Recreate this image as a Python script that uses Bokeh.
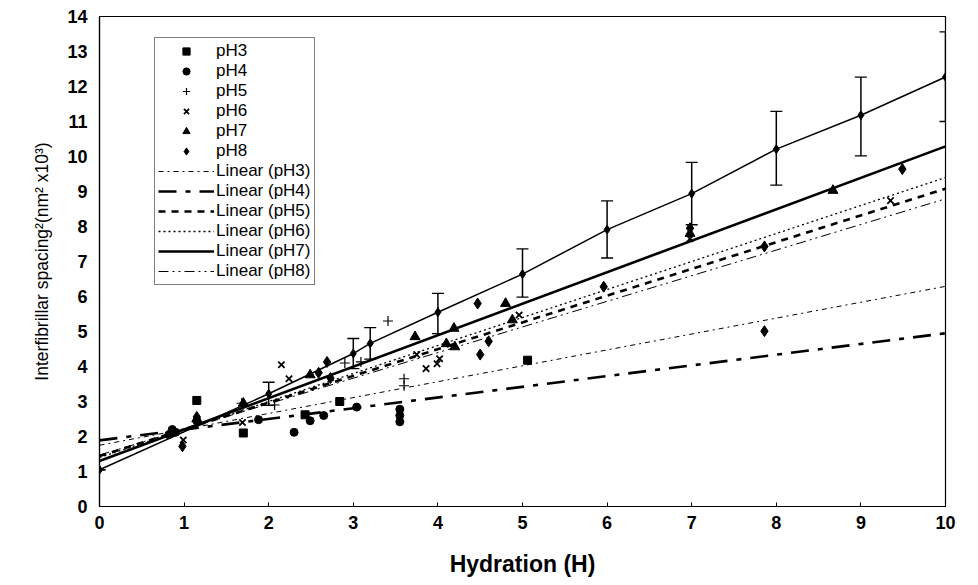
import math
from bokeh.plotting import figure
from bokeh.models import (Legend, LegendItem, Whisker, ColumnDataSource, Range1d,
                          FixedTicker, TeeHead, Title)
from bokeh.embed import file_html
from bokeh.resources import INLINE

# ---------------- data ----------------
ph3_x = [1.15, 1.70, 2.43, 2.84, 5.06]
ph3_y = [3.03, 2.10, 2.62, 3.00, 4.18]

ph4_x = [0.82, 0.86, 0.90, 1.15, 1.88, 2.30, 2.49, 2.65, 3.04, 3.55, 3.55, 3.55]
ph4_y = [2.05, 2.20, 2.12, 2.45, 2.48, 2.12, 2.45, 2.60, 2.84, 2.78, 2.60, 2.42]

ph5_x = [1.68, 2.07, 2.90, 3.09, 3.41, 3.60, 3.60]
ph5_y = [2.95, 2.90, 4.10, 4.13, 5.30, 3.65, 3.45]

ph6_x = [0.99, 1.69, 2.15, 2.24, 3.75, 3.86, 3.99, 4.02, 4.96, 6.98, 9.35]
ph6_y = [1.90, 2.40, 4.05, 3.65, 4.34, 3.94, 4.08, 4.22, 5.47, 7.65, 8.74]

ph7_x = [1.15, 1.70, 2.49, 3.73, 4.10, 4.19, 4.20, 4.80, 4.88, 6.98, 8.67]
ph7_y = [2.50, 2.95, 3.76, 4.85, 4.65, 5.09, 4.56, 5.80, 5.33, 7.80, 9.03]

ph8_x = [0.98, 1.15, 2.59, 2.69, 2.73, 4.47, 4.50, 4.60, 5.96, 6.98, 7.86, 7.86, 9.49]
ph8_y = [1.72, 2.56, 3.82, 4.13, 3.67, 5.80, 4.34, 4.72, 6.28, 7.95, 7.43, 5.01, 9.64]

# linear trend lines: intercept and slope per series
trend_names = ["pH3", "pH4", "pH5", "pH6", "pH7", "pH8"]
trend_b = [1.75, 1.89, 1.44, 1.40, 1.30, 1.47]
trend_m = [0.454, 0.306, 0.764, 0.800, 0.899, 0.732]

# mean series with error bars
mean_x = [0, 2, 3, 3.2, 4, 5, 6, 7, 8, 9, 10]
mean_y = [1.05, 3.22, 4.37, 4.66, 5.55, 6.64, 7.91, 8.94, 10.21, 11.18, 12.27]
mean_lo = [1.05, 2.89, 3.94, 4.21, 4.94, 5.98, 7.10, 8.05, 9.18, 10.02, 11.00]
mean_hi = [1.05, 3.55, 4.80, 5.11, 6.09, 7.36, 8.73, 9.83, 11.29, 12.27, 13.56]

x_ticks = list(range(0, 11))
y_ticks = list(range(0, 15))

y_title = "Interfibrillar spacing\u00b2(nm\u00b2 x10\u00b3)"
x_title = "Hydration (H)"

FONT = "Liberation Sans"
W, H = 960, 579

p = figure(width=W, height=H, output_backend="svg", toolbar_location=None,
           x_range=Range1d(0, 10), y_range=Range1d(0, 14),
           min_border_left=99, min_border_right=15, min_border_top=16,
           min_border_bottom=67)
p.background_fill_color = "white"
p.border_fill_color = "white"
p.outline_line_color = "black"
p.outline_line_width = 1.2
p.xgrid.visible = False
p.ygrid.visible = False

for ax in (p.xaxis[0], p.yaxis[0]):
    ax.axis_line_color = "black"
    ax.axis_line_width = 1.2
    ax.major_label_text_font = FONT
    ax.major_label_text_font_style = "bold"
    ax.major_label_text_font_size = "18px"
    ax.major_label_text_color = "black"
    ax.axis_label_text_font = FONT
    ax.axis_label_text_color = "black"
    ax.minor_tick_line_color = None

p.xaxis.ticker = FixedTicker(ticks=x_ticks)
p.yaxis.ticker = FixedTicker(ticks=y_ticks)
p.xaxis.major_tick_in = 4
p.xaxis.major_tick_out = 0
p.xaxis.major_tick_line_color = "black"
p.yaxis.major_tick_in = 0
p.yaxis.major_tick_out = 0
p.xaxis.major_label_standoff = 9
p.yaxis.major_label_standoff = 12
p.xaxis.axis_label = x_title
p.xaxis.axis_label_text_font_style = "bold"
p.xaxis.axis_label_text_font_size = "23px"
p.xaxis.axis_label_standoff = 19

# y axis title as a side title, shifted upward like the reference
p.add_layout(Title(text=y_title, align="center", offset=22, standoff=26,
                   text_font=FONT, text_font_size="17.5px",
                   text_font_style="normal", text_color="black"), "left")

# trend lines
styles = {
    "pH3": dict(line_width=1.0, line_dash="5 4 2 4"),
    "pH4": dict(line_width=2.6, line_dash="18 9 5 9"),
    "pH5": dict(line_width=2.6, line_dash="7 6"),
    "pH6": dict(line_width=1.3, line_dash="2 3"),
    "pH7": dict(line_width=2.6, line_dash="solid"),
    "pH8": dict(line_width=1.0, line_dash="10 4 2 4 2 4"),
}
trend_r = {}
for name, b, m in zip(trend_names, trend_b, trend_m):
    xs = [0, 10]
    ys = [b + m * x for x in xs]
    trend_r[name] = p.line(xs, ys, line_color="black", **styles[name])

# mean series with error bars
src = ColumnDataSource(dict(x=mean_x, y=mean_y, lo=mean_lo, hi=mean_hi))
p.line("x", "y", source=src, line_color="black", line_width=1.5)
wh = Whisker(source=src, base="x", lower="lo", upper="hi", line_color="black",
             line_width=1.5,
             upper_head=TeeHead(size=12, line_color="black", line_width=1.3),
             lower_head=TeeHead(size=12, line_color="black", line_width=1.3))
p.add_layout(wh)
p.scatter("x", "y", source=src, marker="diamond", size=9, color="black")

# scatter series
r3 = p.scatter(ph3_x, ph3_y, marker="square", size=8, color="black")
r4 = p.scatter(ph4_x, ph4_y, marker="circle", size=8, color="black")
r5 = p.scatter(ph5_x, ph5_y, marker="cross", size=10, line_color="black", line_width=1.2)
r6 = p.scatter(ph6_x, ph6_y, marker="x", size=9, line_color="black", line_width=1.8)
r7 = p.scatter(ph7_x, ph7_y, marker="triangle", size=10, color="black")
r8 = p.scatter(ph8_x, ph8_y, marker="diamond", size=11, color="black")

items = [
    LegendItem(label="pH3", renderers=[r3]),
    LegendItem(label="pH4", renderers=[r4]),
    LegendItem(label="pH5", renderers=[r5]),
    LegendItem(label="pH6", renderers=[r6]),
    LegendItem(label="pH7", renderers=[r7]),
    LegendItem(label="pH8", renderers=[r8]),
] + [LegendItem(label="Linear (%s)" % n, renderers=[trend_r[n]]) for n in trend_names]

legend = Legend(items=items, location=(55, 221), orientation="vertical")
legend.label_text_font = FONT
legend.label_text_font_size = "17px"
legend.label_text_color = "black"
legend.glyph_width = 56
legend.glyph_height = 18
legend.label_height = 18
legend.label_standoff = 2
legend.spacing = 0
legend.padding = 3
legend.margin = 0
legend.border_line_color = "black"
legend.border_line_width = 1.2
legend.background_fill_color = "white"
legend.background_fill_alpha = 1.0
p.add_layout(legend, "center")

open("out.html", "w").write(file_html(p, INLINE))
